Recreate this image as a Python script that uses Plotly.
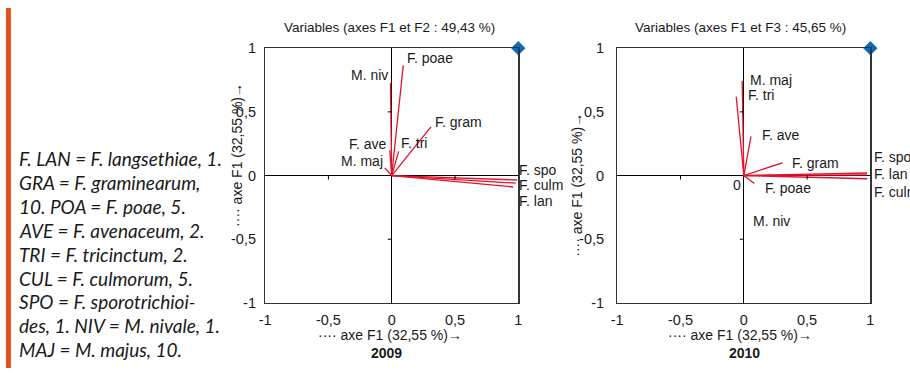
import plotly.graph_objects as go

# ---------------- data ----------------
variables_2009 = ["F. poae", "M. niv", "F. gram", "F. tri", "F. ave", "M. maj", "F. spo", "F. culm", "F. lan"]
f1_2009 = [0.091, -0.010, 0.310, 0.055, -0.015, -0.055, 0.990, 0.980, 0.960]
f2_2009 = [0.865, 0.727, 0.383, 0.190, 0.200, 0.060, -0.035, -0.060, -0.090]

variables_2010 = ["M. maj", "F. tri", "F. ave", "F. gram", "F. poae", "M. niv", "F. spo", "F. lan", "F. culm"]
f1_2010 = [-0.013, -0.060, 0.057, 0.305, 0.083, 0.004, 0.975, 0.975, 0.975]
f3_2010 = [0.744, 0.620, 0.308, 0.100, -0.063, -0.008, 0.020, 0.005, -0.025]

supp_x = [1]
supp_y = [1]

tick_vals = [-1, -0.5, 0, 0.5, 1]
tick_text = ["-1", "-0,5", "0", "0,5", "1"]

titles = ["Variables (axes F1 et F2 : 49,43 %)", "Variables (axes F1 et F3 : 45,65 %)"]
years = ["2009", "2010"]
axis_title = "···· axe F1 (32,55 %)→"

legend_lines = [
    "F. LAN = F. langsethiae, 1.",
    "GRA = F. graminearum,",
    "10. POA = F. poae, 5.",
    "AVE = F. avenaceum, 2.",
    "TRI = F. tricinctum, 2.",
    "CUL = F. culmorum, 5.",
    "SPO = F. sporotrichioi-",
    "des, 1. NIV = M. nivale, 1.",
    "MAJ = M. majus, 10.",
]

# ---------------- styles / label placement (pixel offsets) ----------------
W, H = 910, 376
RED = "#e3122d"
BLUE = "#0a6cc0"
ORANGE = "#e5531a"
NARROW = "Liberation Sans Narrow, Arial Narrow, Liberation Sans, sans-serif"
TXT = "#1a1a1a"

# (xanchor, xshift, yshift) for each vector label
lab_2009 = [("left", 2, 7), ("right", 0, 8), ("left", 2, 5), ("left", 0, 8), ("right", -1, 6),
            ("right", 0, 7), ("left", 0, 10), ("left", 1, -2), ("left", 4, -14)]
lab_2010 = [("left", 6, 1), ("left", 10, 2), ("left", 9, 1), ("left", 8, 0), ("left", 9, -4),
            ("left", 7, -44), ("left", 5, 16), ("left", 5, 1), ("left", 5, -13)]


def px_x(p):
    return p / W


def px_y(p):
    return 1 - p / H


fig = go.Figure()

panels = [
    (variables_2009, f1_2009, f2_2009, lab_2009, "x", "y"),
    (variables_2010, f1_2010, f3_2010, lab_2010, "x2", "y2"),
]

annotations = []
shapes = []

# orange bar at the left edge
shapes.append(dict(type="rect", xref="paper", yref="paper", x0=0, x1=px_x(5), y0=0, y1=1,
                   fillcolor=ORANGE, line=dict(width=0), layer="below"))

for names, xs, ys, labs, xa, ya in panels:
    lx, ly = [], []
    for xv, yv in zip(xs, ys):
        lx += [0, xv, None]
        ly += [0, yv, None]
    fig.add_trace(go.Scatter(x=lx, y=ly, mode="lines", line=dict(color=RED, width=1.3),
                             xaxis=xa, yaxis=ya, showlegend=False, hoverinfo="skip"))
    fig.add_trace(go.Scatter(x=supp_x, y=supp_y, mode="markers",
                             marker=dict(symbol="diamond", size=11, color=BLUE),
                             xaxis=xa, yaxis=ya, showlegend=False, cliponaxis=False))
    for name, xv, yv, (anc, xs_, ys_) in zip(names, xs, ys, labs):
        annotations.append(dict(x=xv, y=yv, xref=xa, yref=ya, text=name, showarrow=False,
                                xanchor=anc, yanchor="middle", xshift=xs_, yshift=ys_,
                                font=dict(family=NARROW, size=14, color=TXT)))
    # small ticks on the zero lines
    for v in (-0.5, 0.5):
        shapes.append(dict(type="line", xref=xa, yref=ya, x0=v, x1=v, ysizemode="pixel",
                           yanchor=0, y0=0, y1=-4, line=dict(color="black", width=1)))
        shapes.append(dict(type="line", xref=xa, yref=ya, y0=v, y1=v, xsizemode="pixel",
                           xanchor=0, x0=0, x1=-4, line=dict(color="black", width=1)))

# stray "0" at the origin of the 2010 panel
annotations.append(dict(x=0, y=0, xref="x2", yref="y2", text="0", showarrow=False,
                        xanchor="right", yanchor="middle", xshift=-1, yshift=-9,
                        font=dict(family=NARROW, size=14, color=TXT)))

# titles, axis titles, years
for title, cx in zip(titles, (388, 743)):
    annotations.append(dict(x=px_x(cx), y=px_y(20), xref="paper", yref="paper", text=title,
                            showarrow=False, xanchor="center", yanchor="middle",
                            font=dict(family=NARROW, size=13.5, color=TXT)))
for cx in (388, 742):
    annotations.append(dict(x=px_x(cx), y=px_y(342), xref="paper", yref="paper", text=axis_title,
                            showarrow=False, xanchor="center", yanchor="middle",
                            font=dict(family=NARROW, size=14, color=TXT)))
for year, cx in zip(years, (385, 747)):
    annotations.append(dict(x=px_x(cx), y=px_y(360), xref="paper", yref="paper",
                            text="<b>" + year + "</b>", showarrow=False, xanchor="center",
                            yanchor="middle", font=dict(family=NARROW, size=14, color=TXT)))
for cx, cy in ((234, 153), (577, 185)):
    annotations.append(dict(x=px_x(cx), y=px_y(cy), xref="paper", yref="paper", text=axis_title,
                            showarrow=False, textangle=-90, xanchor="center", yanchor="middle",
                            font=dict(family=NARROW, size=14, color=TXT)))

# legend text block
for i, line in enumerate(legend_lines):
    annotations.append(dict(x=px_x(11), y=px_y(157 + 25 * i), xref="paper", yref="paper",
                            text="<i>" + line + "</i>", showarrow=False, xanchor="left",
                            yanchor="middle", font=dict(family="Lato, sans-serif", size=19,
                                                        color=TXT)))

axis_common = dict(range=[-1, 1], showgrid=False, zeroline=True, zerolinecolor="black",
                   zerolinewidth=1, showline=True, mirror=True, linecolor="#333", linewidth=1.2,
                   tickvals=tick_vals, ticktext=tick_text, ticks="", fixedrange=True,
                   tickfont=dict(family=NARROW, size=14.5, color=TXT))

ydom = [(H - 308) / H, (H - 42) / H]
fig.update_layout(
    width=W, height=H, margin=dict(l=0, r=0, t=0, b=0),
    paper_bgcolor="white", plot_bgcolor="white",
    xaxis=dict(domain=[262 / W, 518 / W], anchor="y", ticklabelstandoff=4, **axis_common),
    yaxis=dict(domain=ydom, anchor="x", ticklabelstandoff=5, **axis_common),
    xaxis2=dict(domain=[618 / W, 874 / W], anchor="y2", ticklabelstandoff=4, **axis_common),
    yaxis2=dict(domain=ydom, anchor="x2", ticklabelstandoff=9, **axis_common),
    annotations=annotations, shapes=shapes,
)

reset_css = ("document.documentElement.style.margin='0';"
             "document.body.style.margin='0';document.body.style.padding='0';"
             "document.body.style.overflow='hidden';")

fig.write_html("out.html", config={"displayModeBar": False, "staticPlot": True},
               post_script=reset_css)
